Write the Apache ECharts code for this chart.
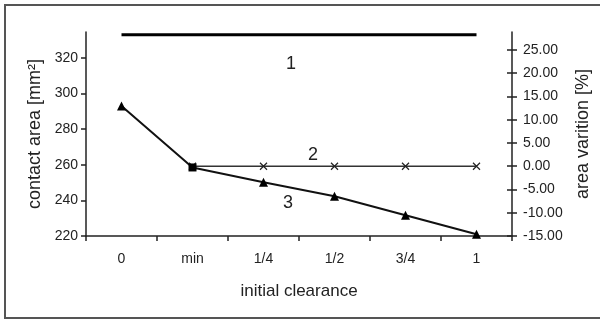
<!DOCTYPE html>
<html>
<head>
<meta charset="utf-8">
<script src="https://cdn.jsdelivr.net/npm/echarts@6/dist/echarts.min.js"></script>
<style>
html,body{margin:0;padding:0;background:#fff;}
#c{width:600px;height:320px;}
</style>
</head>
<body>
<div id="c"></div>
<script>
var categories = ['0', 'min', '1/4', '1/2', '3/4', '1'];
var series1 = [333, 333, 333, 333, 333, 333];
var series2 = [null, 0, 0, 0, 0, 0];
var series3 = [293, 258.5, 250.2, 242.3, 231.7, 221];
var leftTicks = [220, 240, 260, 280, 300, 320];
var rightTicks = [-15, -10, -5, 0, 5, 10, 15, 20, 25];

var FONT = "'Liberation Sans', Arial, sans-serif";
var TXT = '#222';

var chart = echarts.init(document.getElementById('c'));
chart.setOption({
  backgroundColor: '#fff',
  animation: false,
  grid: { left: 86, right: 88, top: 32, bottom: 84 },
  xAxis: {
    type: 'category',
    data: categories,
    boundaryGap: true,
    name: 'initial clearance',
    nameLocation: 'middle',
    nameGap: 47,
    nameTextStyle: { fontFamily: FONT, fontSize: 17, color: TXT },
    axisLine: { onZero: false, lineStyle: { color: '#222', width: 1.5 } },
    axisTick: { show: true, length: 5, lineStyle: { color: '#222', width: 1.5 } },
    axisLabel: { fontFamily: FONT, fontSize: 14, color: TXT, margin: 16 }
  },
  yAxis: [
    {
      type: 'value', position: 'left', min: 220, max: 334.6,
      name: 'contact area [mm²]',
      nameLocation: 'middle', nameRotate: 90, nameGap: 31,
      nameTextStyle: { fontFamily: FONT, fontSize: 18, color: TXT },
      splitLine: { show: false },
      axisLine: { show: true, onZero: false, lineStyle: { color: '#222', width: 1.5 } },
      axisTick: { show: true, length: 5, customValues: leftTicks, lineStyle: { color: '#222', width: 1.5 } },
      axisLabel: { customValues: leftTicks, fontFamily: FONT, fontSize: 14, color: TXT, margin: 8 }
    },
    {
      type: 'value', position: 'right', min: -15, max: 28.87,
      name: 'area varition [%]',
      nameLocation: 'middle', nameRotate: 90, nameGap: 59,
      nameTextStyle: { fontFamily: FONT, fontSize: 18, color: TXT },
      splitLine: { show: false },
      axisLine: { show: true, onZero: false, lineStyle: { color: '#222', width: 1.5 } },
      axisTick: { show: true, length: 5, customValues: rightTicks, lineStyle: { color: '#222', width: 1.5 } },
      axisLabel: { customValues: rightTicks, fontFamily: FONT, fontSize: 14, color: TXT, margin: 11,
        formatter: function (v) { return v.toFixed(2); } }
    },
    {
      type: 'value', position: 'right', min: -15, max: 28.87,
      splitLine: { show: false },
      axisLine: { show: false, onZero: false },
      axisTick: { show: true, inside: true, length: 5, customValues: rightTicks, lineStyle: { color: '#222', width: 1.5 } },
      axisLabel: { show: false }
    }
  ],
  series: [
    {
      name: '1', type: 'line', yAxisIndex: 0, data: series1,
      symbol: 'none', lineStyle: { color: '#000', width: 3 }
    },
    {
      name: '2', type: 'line', yAxisIndex: 1, data: series2,
      symbol: 'path://M0,0L10,10M10,0L0,10', symbolSize: 7,
      itemStyle: { color: 'none', borderColor: '#222', borderWidth: 1.2 },
      lineStyle: { color: '#333', width: 1.5 }
    },
    {
      name: '3', type: 'line', yAxisIndex: 0,
      data: series3.map(function (v, i) { return i === 1 ? { value: v, symbol: 'rect', symbolSize: 8 } : v; }),
      symbol: 'triangle', symbolSize: 9,
      itemStyle: { color: '#000' },
      lineStyle: { color: '#111', width: 2 }
    }
  ],
  graphic: [
    { type: 'rect', shape: { x: 5, y: 5, width: 620, height: 313 },
      style: { fill: 'none', stroke: '#555', lineWidth: 2 }, silent: true },
    { type: 'text', x: 291, y: 64, style: { text: '1', font: '18px ' + FONT, fill: TXT, align: 'center', verticalAlign: 'middle' } },
    { type: 'text', x: 313, y: 155, style: { text: '2', font: '18px ' + FONT, fill: TXT, align: 'center', verticalAlign: 'middle' } },
    { type: 'text', x: 288, y: 203, style: { text: '3', font: '18px ' + FONT, fill: TXT, align: 'center', verticalAlign: 'middle' } }
  ]
});
</script>
</body>
</html>
